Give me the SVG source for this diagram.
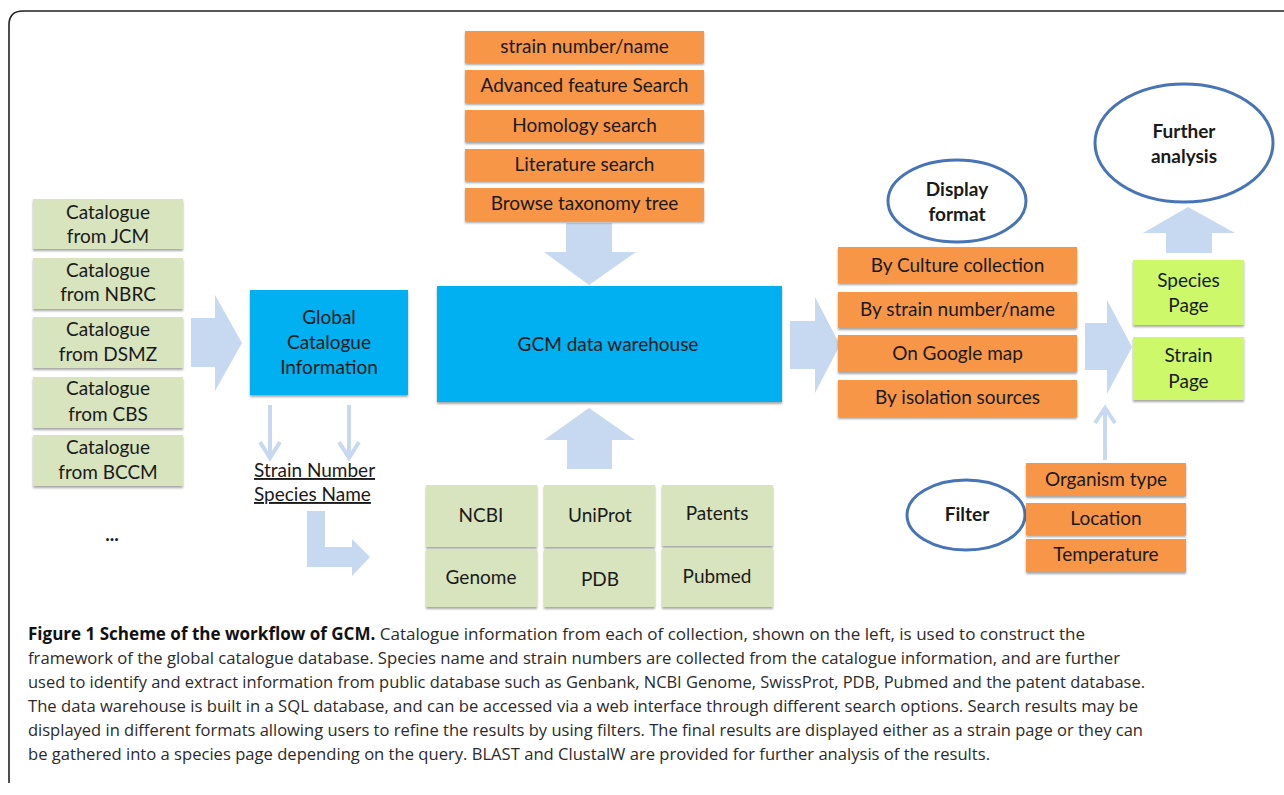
<svg xmlns="http://www.w3.org/2000/svg" width="1284" height="795" viewBox="0 0 1284 795">
<style>
.t{font-family:Lato,"Liberation Sans",sans-serif;font-size:19px;fill:#1a1a1a;text-anchor:middle}
.b{font-weight:bold}
.green{fill:#D7E4BD}
.orange{fill:#F79646}
.blue{fill:#00B0F0}
.lime{fill:#CCF86A}
.arr{fill:#C6D9F1}
.thin{stroke:#C6D9F1;stroke-width:4;fill:none}
.ell{fill:#fff;stroke:#4674B6;stroke-width:3}
.cap{font-family:"Open Sans","Liberation Sans",sans-serif;font-size:17px;fill:#2b2b2b}
</style>
<defs>
<filter id="sh" x="-10%" y="-10%" width="120%" height="130%">
<feDropShadow dx="0" dy="2" stdDeviation="1.2" flood-color="#000" flood-opacity="0.35"/>
</filter>
</defs>
<rect width="1284" height="795" fill="#fff"/>
<path d="M9,783 V25 Q9,11 23,11 H1284" fill="none" stroke="#222" stroke-width="1.6"/>

<g id="connectors">
<polygon class="arr" points="191,318 215,318 215,295 242,343 215,391 215,367 191,367"/>
<polygon class="arr" points="790,321 815,321 815,297 840,345 815,393 815,369 790,369"/>
<polygon class="arr" points="1085,323 1107,323 1107,300 1132,347 1107,394 1107,370 1085,370"/>
<polygon class="arr" points="566,223 612,223 612,252 636,252 589,285 544,252 566,252"/>
<polygon class="arr" points="567,469 612,469 612,440 635,440 589,408 544,440 567,440"/>
<polygon class="arr" points="1166,253 1212,253 1212,233 1235,233 1188,207 1143,233 1166,233"/>
<polygon class="arr" points="307,511 325,511 325,547 352,547 352,539 370,557 352,576 352,567 307,567"/>
<line class="thin" x1="270" y1="405" x2="270" y2="457"/>
<polyline class="thin" points="260,442 270,458 280,442"/>
<line class="thin" x1="349" y1="405" x2="349" y2="457"/>
<polyline class="thin" points="339,442 349,458 359,442"/>
<line class="thin" x1="1105" y1="460" x2="1105" y2="409"/>
<polyline class="thin" points="1095,423 1105,408 1115,423"/>
</g>

<g id="cat-jcm"><rect class="green" x="33" y="199" width="150" height="50" filter="url(#sh)"/><text class="t" x="108" y="219">Catalogue</text><text class="t" x="108" y="243">from JCM</text></g>
<g id="cat-nbrc"><rect class="green" x="33" y="258" width="150" height="51" filter="url(#sh)"/><text class="t" x="108" y="277">Catalogue</text><text class="t" x="108" y="301">from NBRC</text></g>
<g id="cat-dsmz"><rect class="green" x="33" y="317" width="150" height="51" filter="url(#sh)"/><text class="t" x="108" y="336">Catalogue</text><text class="t" x="108" y="361">from DSMZ</text></g>
<g id="cat-cbs"><rect class="green" x="33" y="377" width="150" height="51" filter="url(#sh)"/><text class="t" x="108" y="395">Catalogue</text><text class="t" x="108" y="421">from CBS</text></g>
<g id="cat-bccm"><rect class="green" x="33" y="435" width="150" height="51" filter="url(#sh)"/><text class="t" x="108" y="454">Catalogue</text><text class="t" x="108" y="479">from BCCM</text></g>
<g id="dots"><text class="t b" x="112" y="541">...</text></g>

<g id="global"><rect class="blue" x="250" y="290" width="158" height="105" filter="url(#sh)"/><text class="t" x="329" y="324">Global</text><text class="t" x="329" y="349">Catalogue</text><text class="t" x="329" y="374">Information</text></g>
<g id="strain-species"><text class="t" x="254" y="477" style="text-anchor:start;text-decoration:underline">Strain Number</text><text class="t" x="254" y="501" style="text-anchor:start;text-decoration:underline">Species Name</text></g>

<g id="search-strain"><rect class="orange" x="465" y="31" width="239" height="32" filter="url(#sh)"/><text class="t" x="584.5" y="53">strain number/name</text></g>
<g id="search-advanced"><rect class="orange" x="465" y="70" width="239" height="33" filter="url(#sh)"/><text class="t" x="584.5" y="92">Advanced feature Search</text></g>
<g id="search-homology"><rect class="orange" x="465" y="110" width="239" height="32" filter="url(#sh)"/><text class="t" x="584.5" y="132">Homology search</text></g>
<g id="search-literature"><rect class="orange" x="465" y="149" width="239" height="32" filter="url(#sh)"/><text class="t" x="584.5" y="171">Literature search</text></g>
<g id="search-taxonomy"><rect class="orange" x="465" y="188" width="239" height="33" filter="url(#sh)"/><text class="t" x="584.5" y="210">Browse taxonomy tree</text></g>

<g id="gcm"><rect class="blue" x="437" y="286" width="345" height="116" filter="url(#sh)"/><text class="t" x="608" y="351">GCM data warehouse</text></g>

<g id="src-ncbi"><rect class="green" x="426" y="485" width="111" height="62" filter="url(#sh)"/><text class="t" x="481" y="522">NCBI</text></g>
<g id="src-uniprot"><rect class="green" x="544" y="485" width="111" height="62" filter="url(#sh)"/><text class="t" x="600" y="522">UniProt</text></g>
<g id="src-patents"><rect class="green" x="662" y="485" width="111" height="61" filter="url(#sh)"/><text class="t" x="717" y="520">Patents</text></g>
<g id="src-genome"><rect class="green" x="426" y="549" width="111" height="58" filter="url(#sh)"/><text class="t" x="481" y="584">Genome</text></g>
<g id="src-pdb"><rect class="green" x="544" y="549" width="111" height="58" filter="url(#sh)"/><text class="t" x="600" y="586">PDB</text></g>
<g id="src-pubmed"><rect class="green" x="662" y="548" width="111" height="59" filter="url(#sh)"/><text class="t" x="717" y="583">Pubmed</text></g>

<g id="display-format"><ellipse class="ell" cx="957" cy="201" rx="69" ry="41"/><text class="t b" x="957" y="196">Display</text><text class="t b" x="957" y="221">format</text></g>
<g id="fmt-culture"><rect class="orange" x="838" y="247" width="239" height="36" filter="url(#sh)"/><text class="t" x="957.5" y="272">By Culture collection</text></g>
<g id="fmt-strain"><rect class="orange" x="838" y="292" width="239" height="36" filter="url(#sh)"/><text class="t" x="957.5" y="316">By strain number/name</text></g>
<g id="fmt-google"><rect class="orange" x="838" y="335" width="239" height="37" filter="url(#sh)"/><text class="t" x="957.5" y="360">On Google map</text></g>
<g id="fmt-isolation"><rect class="orange" x="838" y="380" width="239" height="37" filter="url(#sh)"/><text class="t" x="957.5" y="404">By isolation sources</text></g>

<g id="species-page"><rect class="lime" x="1133" y="260" width="111" height="65" filter="url(#sh)"/><text class="t" x="1188.5" y="287">Species</text><text class="t" x="1188.5" y="312">Page</text></g>
<g id="strain-page"><rect class="lime" x="1133" y="337" width="111" height="63" filter="url(#sh)"/><text class="t" x="1188.5" y="362">Strain</text><text class="t" x="1188.5" y="388">Page</text></g>
<g id="further"><ellipse class="ell" cx="1184" cy="143" rx="89" ry="59"/><text class="t b" x="1184" y="138">Further</text><text class="t b" x="1184" y="163">analysis</text></g>

<g id="filter"><ellipse class="ell" cx="966" cy="515" rx="59" ry="35"/><text class="t b" x="967" y="521">Filter</text></g>
<g id="flt-organism"><rect class="orange" x="1026" y="463" width="160" height="33" filter="url(#sh)"/><text class="t" x="1106" y="486">Organism type</text></g>
<g id="flt-location"><rect class="orange" x="1026" y="503" width="160" height="32" filter="url(#sh)"/><text class="t" x="1106" y="525">Location</text></g>
<g id="flt-temperature"><rect class="orange" x="1026" y="539" width="160" height="33" filter="url(#sh)"/><text class="t" x="1106" y="561">Temperature</text></g>

<g id="caption">
<text class="cap" x="28" y="640" textLength="1057" lengthAdjust="spacingAndGlyphs"><tspan font-weight="bold" fill="#111">Figure 1 Scheme of the workflow of GCM.</tspan> Catalogue information from each of collection, shown on the left, is used to construct the</text>
<text class="cap" x="28" y="664" textLength="1092" lengthAdjust="spacingAndGlyphs">framework of the global catalogue database. Species name and strain numbers are collected from the catalogue information, and are further</text>
<text class="cap" x="28" y="688" textLength="1117" lengthAdjust="spacingAndGlyphs">used to identify and extract information from public database such as Genbank, NCBI Genome, SwissProt, PDB, Pubmed and the patent database.</text>
<text class="cap" x="28" y="712" textLength="1110" lengthAdjust="spacingAndGlyphs">The data warehouse is built in a SQL database, and can be accessed via a web interface through different search options. Search results may be</text>
<text class="cap" x="28" y="736" textLength="1115" lengthAdjust="spacingAndGlyphs">displayed in different formats allowing users to refine the results by using filters. The final results are displayed either as a strain page or they can</text>
<text class="cap" x="28" y="760" textLength="962" lengthAdjust="spacingAndGlyphs">be gathered into a species page depending on the query. BLAST and ClustalW are provided for further analysis of the results.</text>
</g>
</svg>
